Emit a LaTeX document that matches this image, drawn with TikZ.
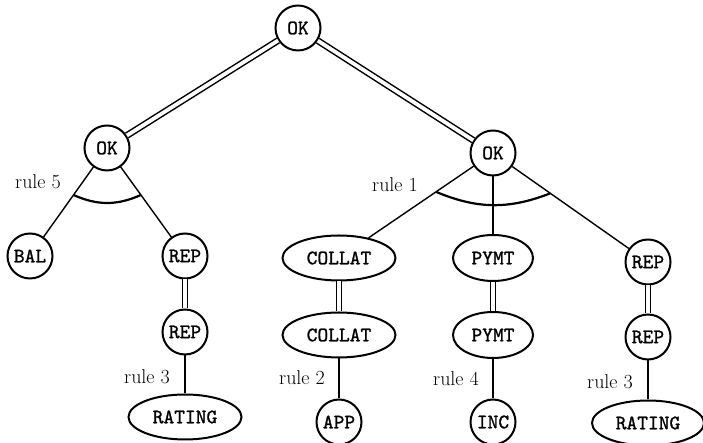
\documentclass[tikz,border=0pt]{standalone}
\usepackage{fontspec}
\newfontfamily\ttnode[FakeBold=1.2]{lmmono10-regular.otf}
\usetikzlibrary{shapes.geometric,calc}
\begin{document}
\begin{tikzpicture}[x=1pt,y=1pt,
  every node/.style={font=\fontsize{20.5}{24}\ttnode},
  circ/.style={circle,draw,line width=2pt,minimum size=45pt,inner sep=0pt},
  ell/.style={ellipse,draw,line width=2pt,minimum height=45pt,inner sep=0pt},
  single/.style={line width=1.4pt},
  dbl/.style={double,double distance=3.8pt,line width=1.5pt},
  andarc/.style={line width=2.2pt},
  rulelbl/.style={font=\fontsize{20}{23}\selectfont\rmfamily}]
\useasboundingbox (0,0) rectangle (703,443);
% nodes
\node[circ] (top) at (298,415) {OK};
\node[circ] (lok) at (107,295) {OK};
\node[circ] (rok) at (493,290) {OK};
\node[circ] (bal) at (30,187) {BAL};
\node[circ] (lrepa) at (185,187) {REP};
\node[circ] (lrepb) at (185,111) {REP};
\node[ell,minimum width=113pt] (lrating) at (185,26) {RATING};
\node[ell,minimum width=113pt] (colla) at (339,185) {COLLAT};
\node[ell,minimum width=113pt] (collb) at (339,108) {COLLAT};
\node[circ] (app) at (339,21) {APP};
\node[ell,minimum width=80pt,minimum height=46pt] (pymta) at (493,185) {PYMT};
\node[ell,minimum width=80pt,minimum height=46pt] (pymtb) at (493,108) {PYMT};
\node[circ] (inc) at (493,21) {INC};
\node[circ] (rrepa) at (648,181) {REP};
\node[circ] (rrepb) at (648,106) {REP};
\node[ell,minimum width=112pt] (rrating) at (648,20) {RATING};
% labels
\node[rulelbl] (r5) at (38,261) {rule 5};
\node[rulelbl] (r1) at (395,258) {rule 1};
\node[rulelbl] (r3a) at (147,66) {rule 3};
\node[rulelbl] (r2) at (302,65) {rule 2};
\node[rulelbl] (r4) at (456,64) {rule 4};
\node[rulelbl] (r3b) at (610,61) {rule 3};
% double connectors
\draw[dbl] (top) -- (lok);
\draw[dbl] (top) -- (rok);
\draw[dbl] (lrepa) -- (lrepb);
\draw[dbl] (colla) -- (collb);
\draw[dbl] (pymta) -- (pymtb);
\draw[dbl] (rrepa) -- (rrepb);
% single connectors
\draw[single] (lok) -- (bal);
\draw[single] (lok) -- (lrepa);
\draw[single] (lrepb) -- (lrating);
\draw[single] (rok) -- (colla);
\draw[single] (rok) -- (pymta);
\draw[single] (rok) -- (rrepa);
\draw[single] (collb) -- (app);
\draw[single] (pymtb) -- (inc);
\draw[single] (rrepb) -- (rrating);
% and-arcs
\coordinate (la) at ($(lok)!0.435!(bal)$);
\coordinate (lb) at ($(lok)!0.435!(lrepa)$);
\draw[andarc] (la) to[bend right=24] (lb);
\coordinate (ra) at ($(rok)!0.37!(colla)$);
\coordinate (rb) at ($(rok)!0.37!(rrepa)$);
\draw[andarc] (ra) to[bend right=22] (rb);
\end{tikzpicture}
\end{document}
